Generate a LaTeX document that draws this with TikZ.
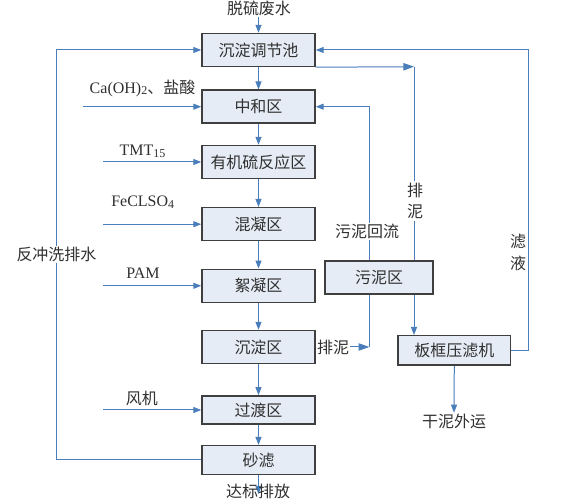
\documentclass[tikz,border=0pt]{standalone}
\usepackage{fontspec}
\setmainfont{Liberation Serif}
\newfontfamily\cjk{Noto Sans CJK SC}
\usetikzlibrary{arrows.meta}
\definecolor{flowblue}{HTML}{4A7EBB}
\definecolor{boxfill}{HTML}{E6ECF6}
\definecolor{boxline}{HTML}{3F3F3F}
\definecolor{txt}{HTML}{303030}
\newcommand\lowsub[1]{\raisebox{-0.25ex}{\fontsize{9}{10}\selectfont #1}}
\pgfdeclarelayer{bg}
\pgfsetlayers{bg,main}
\tikzset{
  unit/.style={draw=boxline, fill=boxfill, line width=1.1pt, minimum width=84.75pt,
    minimum height=24.75pt, inner sep=0pt, text=txt, font=\cjk\fontsize{12}{14}\selectfont},
  lbl/.style={text=txt, inner sep=1pt, font=\cjk\fontsize{12}{16.3}\selectfont, align=center},
  chem/.style={text=txt, inner sep=1pt, font=\rmfamily\fontsize{12}{14}\selectfont},
  gap/.style={fill=white},
  flow/.style={draw=flowblue, line width=0.75pt, -{Triangle[length=6pt,width=4.5pt]}},
  bigtip/.style={-{Triangle[length=8pt,width=5.5pt]}},
}
\begin{document}
\begin{tikzpicture}[x=0.75pt,y=-0.75pt]
\useasboundingbox (0,0) rectangle (562,502);

% main line
\node[lbl] (feed) at (259,8) {脱硫废水};
\node[unit] (tank) at (258.5,50) {沉淀调节池};
\node[unit] (neut) at (258.5,106.7) {中和区};
\node[unit] (tmt) at (258.5,162) {有机硫反应区};
\node[unit] (coag) at (258.5,224.2) {混凝区};
\node[unit] (floc) at (258.5,285.8) {絮凝区};
\node[unit] (sett) at (258.5,347) {沉淀区};
\node[unit, minimum height=21.2pt] (trans) at (258.5,410) {过渡区};
\node[unit, minimum height=21.5pt] (sand) at (258.5,460) {砂滤};
\node[lbl] (out) at (258,491.5) {达标排放};

% sludge side
\node[unit, minimum width=81pt] (sludge) at (379,277.5) {污泥区};
\node[unit, minimum width=84.5pt, minimum height=22pt] (press) at (454.3,350.4) {板框压滤机};
\node[lbl] (dry) at (454,421.7) {干泥外运};

% dosing
\node[chem] (caoh) at (142.5,88) {Ca(OH)\lowsub{2}{\cjk 、盐酸}};
\node[chem] (tmtl) at (142.5,151) {TMT\lowsub{15}};
\node[chem] (fecl) at (142.7,202) {FeCLSO\lowsub{4}};
\node[chem] (pam) at (143,273) {PAM};
\node[lbl] (fan) at (142,398) {风机};
\coordinate (inCa) at (83,106.7);
\coordinate (inTmt) at (103,162);
\coordinate (inFe) at (103,224.2);
\coordinate (inPam) at (103,285.8);
\coordinate (inFan) at (103,410);

% turning points
\coordinate (bw) at (56.7,460);
\coordinate (dr) at (414,66.7);
\coordinate (rc) at (369.3,347);
\coordinate (fl) at (528.3,350.4);
\coordinate (outend) at (258.5,494);

% labels on the lines
\node[lbl, gap] (wash) at (56.5,254.3) {反冲洗排水};
\node[lbl, gap] (back) at (367,231.7) {污泥回流};
\node[lbl, gap] (drain) at (415,201) {排\\泥};
\node[lbl, gap, inner sep=0.5pt] (drain2) at (333,347) {排泥};
\node[lbl] (filt) at (518,252.5) {滤\\液};

\begin{pgfonlayer}{bg}
\draw[flow] (tank.north |- feed.south) -- (tank.north);
\foreach \a/\b in {tank/neut,neut/tmt,tmt/coag,coag/floc,floc/sett,sett/trans,trans/sand}
  \draw[flow] (\a) -- (\b);
\draw[flow] (sand.south) -- (outend);
\foreach \c/\d in {inCa/neut,inTmt/tmt,inFe/coag,inPam/floc,inFan/trans}
  \draw[flow] (\c) -- (\c -| \d.west);
\draw[flow] (sand.west) -- (bw) |- (tank.west);
\draw[flow, bigtip] (tank.south east) -- (dr);
\draw[flow] (dr) -- (dr |- press.north);
\draw[flow, bigtip] (sett.east) -- (rc);
\draw[flow] (rc) |- (neut.east);
\draw[flow] (press.east) -- (fl) |- (tank.east);
\draw[flow] (press.south) -- (dry.north);
\end{pgfonlayer}
\end{tikzpicture}
\end{document}
